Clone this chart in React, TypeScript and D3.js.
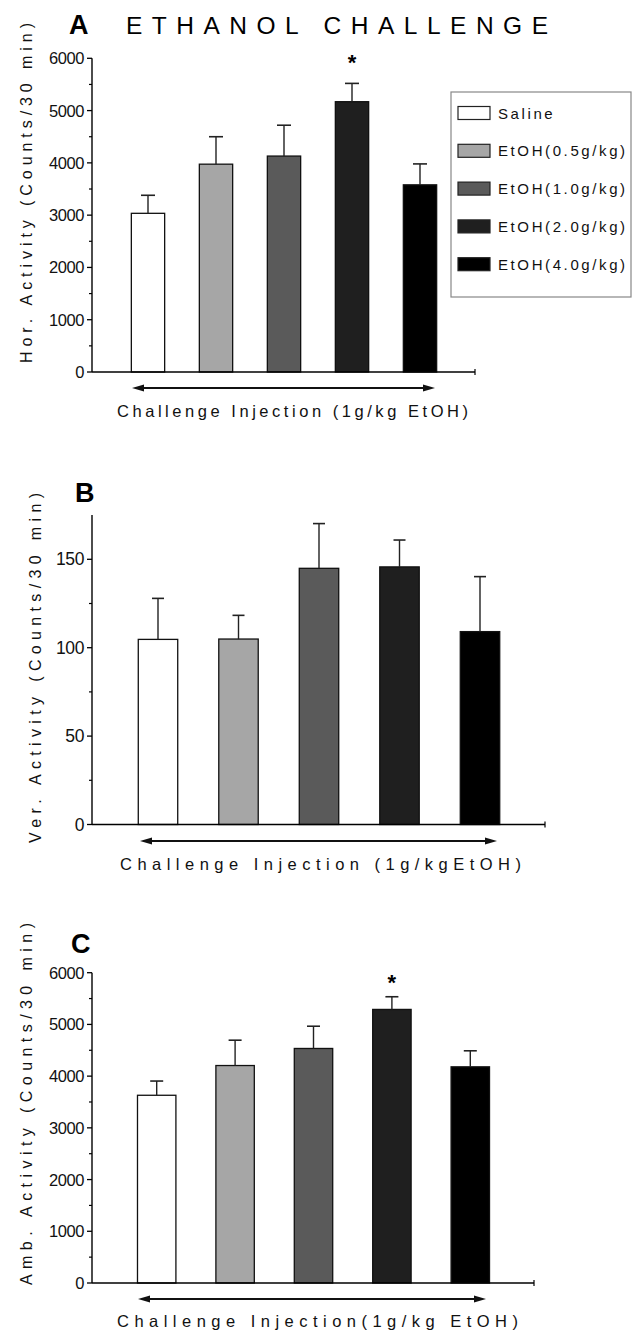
import React, { useEffect, useRef } from "react";
import * as d3 from "d3";

// groups + fills (legend order)
const groups = ["Saline", "EtOH(0.5g/kg)", "EtOH(1.0g/kg)", "EtOH(2.0g/kg)", "EtOH(4.0g/kg)"];
const fills = ["#ffffff", "#a6a6a6", "#5a5a5a", "#1f1f1f", "#000000"];

// A: horizontal activity
const horMean = [3035, 3975, 4130, 5170, 3580];
const horSem = [345, 525, 590, 350, 400];
const horSig = [false, false, false, true, false];
const horTicks = [0, 1000, 2000, 3000, 4000, 5000, 6000];

// B: vertical activity
const verMean = [104.7, 104.9, 144.9, 145.7, 109.1];
const verSem = [23.2, 13.4, 25.3, 15.2, 31.1];
const verSig = [false, false, false, false, false];
const verTicks = [0, 50, 100, 150];

// C: ambulatory activity
const ambMean = [3630, 4205, 4535, 5290, 4180];
const ambSem = [275, 490, 430, 245, 310];
const ambSig = [false, false, false, true, false];
const ambTicks = [0, 1000, 2000, 3000, 4000, 5000, 6000];

const FONT = "'Liberation Sans', Arial, Helvetica, sans-serif";

// yTop = pixel of yMax (top of the y axis)
const panels = [
  {
    letter: "A", mean: horMean, sem: horSem, sig: horSig, ticks: horTicks,
    yMax: 6000, minorStep: 500,
    yTitle: "Hor. Activity (Counts/30 min)", xTitle: "Challenge Injection (1g/kg EtOH)",
    x0: 92, x1: 475, yBot: 372, yTop: 58.3, c0: 148, c4: 420,
    arrowY: 388, arrowA: 132, arrowB: 435,
    xtY: 417, xtX: 117, xtLen: 351,
    ytX: 32, ytCy: 193, ytLen: 340,
    letterX: 69, letterY: 34, starOff: 21, tickFont: 16.5, cap: 14,
  },
  {
    letter: "B", mean: verMean, sem: verSem, sig: verSig, ticks: verTicks,
    yMax: 175, minorStep: 25,
    yTitle: "Ver. Activity (Counts/30 min)", xTitle: "Challenge Injection (1g/kgEtOH)",
    x0: 92, x1: 545, yBot: 824.5, yTop: 515.1, c0: 158, c4: 480,
    arrowY: 841, arrowA: 140, arrowB: 497,
    xtY: 870, xtX: 120, xtLen: 401,
    ytX: 41, ytCy: 668, ytLen: 350,
    letterX: 75, letterY: 502, starOff: 18, tickFont: 17.5, cap: 12,
  },
  {
    letter: "C", mean: ambMean, sem: ambSem, sig: ambSig, ticks: ambTicks,
    yMax: 6000, minorStep: 500,
    yTitle: "Amb. Activity (Counts/30 min)", xTitle: "Challenge Injection(1g/kg EtOH)",
    x0: 92, x1: 534, yBot: 1283, yTop: 972.7, c0: 156.7, c4: 470.3,
    arrowY: 1299, arrowA: 138, arrowB: 486,
    xtY: 1327, xtX: 117, xtLen: 401,
    ytX: 32, ytCy: 1104, ytLen: 362,
    letterX: 71, letterY: 953, starOff: 14, tickFont: 16.5, cap: 13,
  },
];

const App = () => {
  const svgRef = useRef<SVGSVGElement | null>(null);

  useEffect(() => {
    const svg = d3.select(svgRef.current);
    svg.selectAll("*").remove();
    svg.attr("width", 637).attr("height", 1332).style("font-family", FONT);

    // heading
    svg.append("text").attr("x", 69).attr("y", 34).attr("font-size", 27)
      .attr("font-weight", "bold").text("A");
    svg.append("text").attr("x", 126).attr("y", 34).attr("font-size", 24.5)
      .attr("textLength", 422).attr("lengthAdjust", "spacing")
      .text("ETHANOL CHALLENGE");

    panels.forEach((p) => {
      const g = svg.append("g");
      const step = (p.c4 - p.c0) / 4;
      const x = d3.scaleBand<string>()
        .domain(groups)
        .range([p.c0 - step / 2, p.c4 + step / 2])
        .paddingInner(0.51)
        .paddingOuter(0.255);
      const y = d3.scaleLinear().domain([0, p.yMax]).range([p.yBot, p.yTop]);

      if (p.letter !== "A") {
        g.append("text").attr("x", p.letterX).attr("y", p.letterY).attr("font-size", 27)
          .attr("font-weight", "bold").text(p.letter);
      }

      // bars
      g.selectAll("rect.bar").data(groups).enter().append("rect")
        .attr("x", (d) => x(d)!)
        .attr("width", x.bandwidth())
        .attr("y", (_, i) => y(p.mean[i]))
        .attr("height", (_, i) => p.yBot - y(p.mean[i]))
        .attr("fill", (_, i) => fills[i])
        .attr("stroke", "#111")
        .attr("stroke-width", 1.3);

      // error bars (upper only)
      groups.forEach((d, i) => {
        const cx = x(d)! + x.bandwidth() / 2;
        const top = y(p.mean[i] + p.sem[i]);
        g.append("line").attr("x1", cx).attr("x2", cx)
          .attr("y1", y(p.mean[i])).attr("y2", top)
          .attr("stroke", "#222").attr("stroke-width", 1.4);
        g.append("line").attr("x1", cx - p.cap / 2).attr("x2", cx + p.cap / 2)
          .attr("y1", top).attr("y2", top)
          .attr("stroke", "#222").attr("stroke-width", 1.6);
        if (p.sig[i]) {
          g.append("text").attr("x", cx).attr("y", top - p.starOff)
            .attr("text-anchor", "middle").attr("dominant-baseline", "central")
            .attr("font-size", 22).attr("font-weight", "bold").text("*");
        }
      });

      // y axis
      g.append("line").attr("x1", p.x0).attr("x2", p.x0)
        .attr("y1", p.yTop).attr("y2", p.yBot)
        .attr("stroke", "#000").attr("stroke-width", 1.4);
      p.ticks.forEach((t) => {
        g.append("line").attr("x1", p.x0 - 5).attr("x2", p.x0)
          .attr("y1", y(t)).attr("y2", y(t))
          .attr("stroke", "#000").attr("stroke-width", 1.3);
        g.append("text").attr("x", p.x0 - 8).attr("y", y(t))
          .attr("text-anchor", "end").attr("dominant-baseline", "central")
          .attr("font-size", p.tickFont).attr("letter-spacing", -0.4)
          .attr("fill", "#111").text(String(t));
      });
      d3.range(p.minorStep, p.yMax, p.minorStep * 2).forEach((t) => {
        g.append("line").attr("x1", p.x0 - 3).attr("x2", p.x0)
          .attr("y1", y(t)).attr("y2", y(t))
          .attr("stroke", "#000").attr("stroke-width", 1.2);
      });

      // x axis
      g.append("line").attr("x1", p.x0).attr("x2", p.x1)
        .attr("y1", p.yBot).attr("y2", p.yBot)
        .attr("stroke", "#000").attr("stroke-width", 1.4);
      g.append("line").attr("x1", p.x1).attr("x2", p.x1)
        .attr("y1", p.yBot - 3).attr("y2", p.yBot + 3)
        .attr("stroke", "#000").attr("stroke-width", 1.2);

      // double arrow
      const ah = 12, aw = 3.5;
      g.append("line").attr("x1", p.arrowA + ah - 1).attr("x2", p.arrowB - ah + 1)
        .attr("y1", p.arrowY).attr("y2", p.arrowY)
        .attr("stroke", "#111").attr("stroke-width", 1.8);
      g.append("path")
        .attr("d", `M${p.arrowA},${p.arrowY} L${p.arrowA + ah},${p.arrowY - aw} L${p.arrowA + ah},${p.arrowY + aw} Z`)
        .attr("fill", "#111");
      g.append("path")
        .attr("d", `M${p.arrowB},${p.arrowY} L${p.arrowB - ah},${p.arrowY - aw} L${p.arrowB - ah},${p.arrowY + aw} Z`)
        .attr("fill", "#111");

      // x title
      g.append("text").attr("x", p.xtX).attr("y", p.xtY)
        .attr("font-size", 16.5).attr("fill", "#111")
        .attr("textLength", p.xtLen).attr("lengthAdjust", "spacing")
        .text(p.xTitle);

      // y title
      g.append("text")
        .attr("transform", `translate(${p.ytX},${p.ytCy}) rotate(-90)`)
        .attr("x", -p.ytLen / 2).attr("y", 0)
        .attr("font-size", 16).attr("fill", "#111")
        .attr("textLength", p.ytLen).attr("lengthAdjust", "spacing")
        .text(p.yTitle);
    });

    // legend (panel A)
    const lg = svg.append("g");
    lg.append("rect").attr("x", 451).attr("y", 92).attr("width", 180).attr("height", 205)
      .attr("fill", "#fff").attr("stroke", "#888").attr("stroke-width", 1.2);
    groups.forEach((d, i) => {
      const cy = 113 + i * 37.8;
      lg.append("rect").attr("x", 458).attr("y", cy - 6.5).attr("width", 32).attr("height", 13)
        .attr("fill", fills[i]).attr("stroke", "#222").attr("stroke-width", 1.2);
      lg.append("text").attr("x", 498).attr("y", cy).attr("dominant-baseline", "central")
        .attr("font-size", 15).attr("letter-spacing", 2.6).attr("fill", "#111").text(d);
    });
  }, []);

  return <svg ref={svgRef} style={{ position: "absolute", left: 0, top: 0 }}></svg>;
};

export default App;
